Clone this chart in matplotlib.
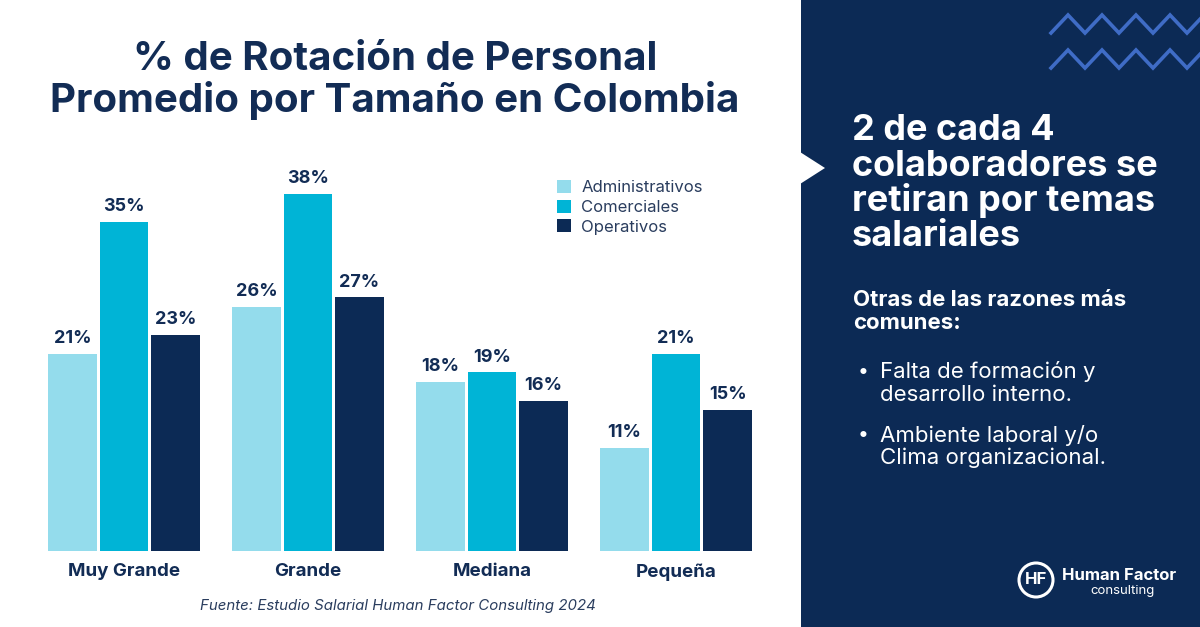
import matplotlib
matplotlib.use("Agg")
import matplotlib.pyplot as plt
import numpy as np
from matplotlib.patches import Rectangle, Polygon, Ellipse

plt.rcParams["font.family"] = ["Inter", "DejaVu Sans"]

categories = ["Muy Grande", "Grande", "Mediana", "Pequeña"]
series = ["Administrativos", "Comerciales", "Operativos"]
administrativos = [21, 26, 18, 11]
comerciales = [35, 38, 19, 21]
operativos = [23, 27, 16, 15]
values = [administrativos, comerciales, operativos]
colors = ["#94dcec", "#00b4d6", "#0c2a55"]

navy = "#0c2a55"
text_dark = "#122c55"
W, H = 1200, 627


def fx(x):
    return x / W


def fy(y):
    return 1 - y / H


fig = plt.figure(figsize=(12, 6.27), dpi=100)
fig.patch.set_facecolor("white")

# right panel
fig.patches.append(Rectangle((fx(801), 0), 1 - fx(801), 1, transform=fig.transFigure,
                             facecolor=navy, edgecolor="none", zorder=0))
fig.patches.append(Polygon([(fx(800), fy(152)), (fx(825), fy(168)), (fx(800), fy(184))],
                           closed=True, transform=fig.transFigure,
                           facecolor="white", edgecolor="none", zorder=1))

# zigzag decoration
for y_peak in [-19, 15, 50]:
    xs, ys = [], []
    x = 1051
    k = 0
    while x < 1215:
        xs.append(fx(x))
        ys.append(fy(y_peak + 18 if k % 2 == 0 else y_peak))
        x += 17
        k += 1
    fig.add_artist(plt.Line2D(xs, ys, transform=fig.transFigure, color="#3f6cc6",
                              lw=2.6, solid_joinstyle="miter", zorder=2))

# bar chart axes
ax_left, ax_right, ax_top, ax_bottom = 40, 760, 150, 551
ax = fig.add_axes([fx(ax_left), fy(ax_bottom), fx(ax_right - ax_left),
                   (ax_bottom - ax_top) / H])
ax.set_facecolor("none")
px_per_unit = 184
c0 = 124
ax.set_xlim(-(c0 - ax_left) / px_per_unit, (ax_right - c0) / px_per_unit)
px_per_pct = 9.4
ax.set_ylim(0, (ax_bottom - ax_top) / px_per_pct)

x = np.arange(len(categories))
step = 0.28
width = 0.265
for i, (vals, col) in enumerate(zip(values, colors)):
    pos = x + (i - 1) * step
    ax.bar(pos, vals, width=width, color=col, edgecolor="none", label=series[i])
    for p, v in zip(pos, vals):
        ax.text(p, v + 0.7, f"{v}%", ha="center", va="bottom", fontsize=13,
                fontweight="bold", color=text_dark)

for s in ax.spines.values():
    s.set_visible(False)
ax.set_yticks([])
ax.set_xticks(x)
ax.set_xticklabels(categories, fontsize=13.5, fontweight="bold", color=text_dark)
ax.tick_params(axis="x", length=0, pad=9)

leg = ax.legend(loc="upper left", bbox_to_anchor=((557 - ax_left) / (ax_right - ax_left),
                (ax_bottom - 180) / (ax_bottom - ax_top)),
                frameon=False, fontsize=12, handlelength=0.85, handleheight=0.85,
                handletextpad=0.6, labelspacing=0.25, borderaxespad=0, borderpad=0)
for t in leg.get_texts():
    t.set_color("#2a3d5e")

# title
fig.text(fx(395), fy(59), "% de Rotación de Personal", ha="center", va="center",
         fontsize=29, fontweight="bold", color=text_dark)
fig.text(fx(395), fy(100), "Promedio por Tamaño en Colombia", ha="center", va="center",
         fontsize=29, fontweight="bold", color=text_dark)

fig.text(fx(398), fy(606), "Fuente: Estudio Salarial Human Factor Consulting 2024",
         ha="center", va="center", fontsize=10.8, style="italic", color="#2a3d5e")

# right text
headline = ["2 de cada 4", "colaboradores se", "retiran por temas", "salariales"]
for i, line in enumerate(headline):
    fig.text(fx(852), fy(131 + i * 35), line, ha="left", va="center", fontsize=26,
             fontweight="bold", color="white")

fig.text(fx(853), fy(300), "Otras de las razones más", ha="left", va="center",
         fontsize=16, fontweight="bold", color="white")
fig.text(fx(853), fy(323), "comunes:", ha="left", va="center",
         fontsize=16, fontweight="bold", color="white")

bullets = [["Falta de formación y", "desarrollo interno."],
           ["Ambiente laboral y/o", "Clima organizacional."]]
for j, lines in enumerate(bullets):
    y0 = 372 + j * 63
    fig.text(fx(863), fy(y0), "•", ha="center", va="center", fontsize=14, color="white")
    for k, line in enumerate(lines):
        fig.text(fx(880), fy(y0 + k * 23), line, ha="left", va="center",
                 fontsize=16, color="white")

# logo
fig.add_artist(Ellipse((fx(1036), fy(580)), 34 / W, 34 / H, transform=fig.transFigure,
                       facecolor="none", edgecolor="white", lw=2.2))
fig.text(fx(1036), fy(580), "HF", ha="center", va="center", fontsize=12,
         fontweight="bold", color="white")
fig.text(fx(1062), fy(575), "Human Factor", ha="left", va="center", fontsize=12,
         fontweight="bold", color="white")
fig.text(fx(1090), fy(591), "consulting", ha="left", va="center", fontsize=9.5,
         color="white")

fig.savefig("out.png", dpi=100)
